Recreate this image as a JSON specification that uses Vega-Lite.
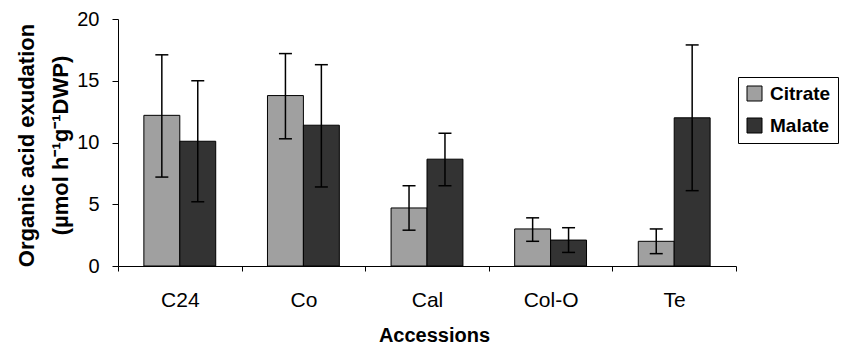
{
  "$schema": "https://vega.github.io/schema/vega-lite/v6.json",
  "width": 618,
  "height": 247,
  "autosize": {"type": "none"},
  "padding": {"left": 118, "top": 19, "right": 111, "bottom": 79},
  "background": "white",
  "config": {
    "font": "Liberation Sans",
    "view": {"stroke": null},
    "axis": {"domainColor": "black", "tickColor": "black", "labelColor": "black", "titleColor": "black", "domainWidth": 1, "tickWidth": 1}
  },
  "data": {
    "values": [
      {"accession": "C24", "acid": "Citrate", "mean": 12.2, "lower": 7.2, "upper": 17.1},
      {"accession": "C24", "acid": "Malate", "mean": 10.1, "lower": 5.2, "upper": 15.0},
      {"accession": "Co", "acid": "Citrate", "mean": 13.8, "lower": 10.3, "upper": 17.2},
      {"accession": "Co", "acid": "Malate", "mean": 11.4, "lower": 6.4, "upper": 16.3},
      {"accession": "Cal", "acid": "Citrate", "mean": 4.7, "lower": 2.9, "upper": 6.5},
      {"accession": "Cal", "acid": "Malate", "mean": 8.65, "lower": 6.5, "upper": 10.75},
      {"accession": "Col-O", "acid": "Citrate", "mean": 3.0, "lower": 2.0, "upper": 3.9},
      {"accession": "Col-O", "acid": "Malate", "mean": 2.1, "lower": 1.1, "upper": 3.1},
      {"accession": "Te", "acid": "Citrate", "mean": 2.0, "lower": 1.0, "upper": 3.0},
      {"accession": "Te", "acid": "Malate", "mean": 12.0, "lower": 6.1, "upper": 17.9}
    ]
  },
  "encoding": {
    "x": {
      "field": "accession",
      "type": "nominal",
      "sort": ["C24", "Co", "Cal", "Col-O", "Te"],
      "scale": {"paddingInner": 0, "paddingOuter": 0},
      "axis": {
        "title": "Accessions",
        "labelAngle": 0,
        "tickBand": "extent",
        "tickSize": 5,
        "labelPadding": 18,
        "labelFontSize": 21,
        "titleFontSize": 20,
        "titleFontWeight": "bold",
        "titlePadding": 15,
        "titleX": 316
      }
    },
    "xOffset": {
      "field": "acid",
      "type": "nominal",
      "sort": ["Citrate", "Malate"],
      "scale": {"paddingInner": 0, "paddingOuter": 0.72}
    }
  },
  "layer": [
    {
      "mark": {"type": "bar", "stroke": "black", "strokeWidth": 1},
      "encoding": {
        "y": {
          "field": "mean",
          "type": "quantitative",
          "scale": {"domain": [0, 20], "nice": false},
          "title": ["Organic acid exudation", "(µmol h⁻¹g⁻¹DWP)"],
          "axis": {
            "values": [0, 5, 10, 15, 20],
            "grid": false,
            "tickSize": 6,
            "labelPadding": 13,
            "labelFontSize": 20,
            "titleFontSize": 22,
            "titleFontWeight": "bold",
            "titleX": -85,
            "titleY": 126,
            "titleBaseline": "alphabetic",
            "titleLineHeight": 34,
            "titleAlign": "center"
          }
        },
        "color": {
          "field": "acid",
          "type": "nominal",
          "scale": {"domain": ["Citrate", "Malate"], "range": ["#a0a0a0", "#333333"]},
          "legend": {
            "title": null,
            "orient": "none",
            "legendX": 620,
            "legendY": 58,
            "strokeColor": "black",
            "padding": 7,
            "symbolType": "square",
            "symbolSize": 225,
            "symbolStrokeColor": "black",
            "symbolStrokeWidth": 1,
            "symbolOpacity": 1,
            "labelFontSize": 19,
            "labelFontWeight": "bold",
            "labelColor": "black",
            "labelOffset": 6,
            "rowPadding": 12
          }
        }
      }
    },
    {
      "mark": {"type": "rule", "color": "black", "strokeWidth": 1.5},
      "encoding": {
        "y": {"field": "lower", "type": "quantitative", "title": ["Organic acid exudation", "(µmol h⁻¹g⁻¹DWP)"]},
        "y2": {"field": "upper"}
      }
    },
    {
      "mark": {"type": "tick", "color": "black", "thickness": 1.5, "size": 13, "opacity": 1},
      "encoding": {
        "y": {"field": "upper", "type": "quantitative", "title": ["Organic acid exudation", "(µmol h⁻¹g⁻¹DWP)"]}
      }
    },
    {
      "mark": {"type": "tick", "color": "black", "thickness": 1.5, "size": 13, "opacity": 1},
      "encoding": {
        "y": {"field": "lower", "type": "quantitative", "title": ["Organic acid exudation", "(µmol h⁻¹g⁻¹DWP)"]}
      }
    }
  ]
}
